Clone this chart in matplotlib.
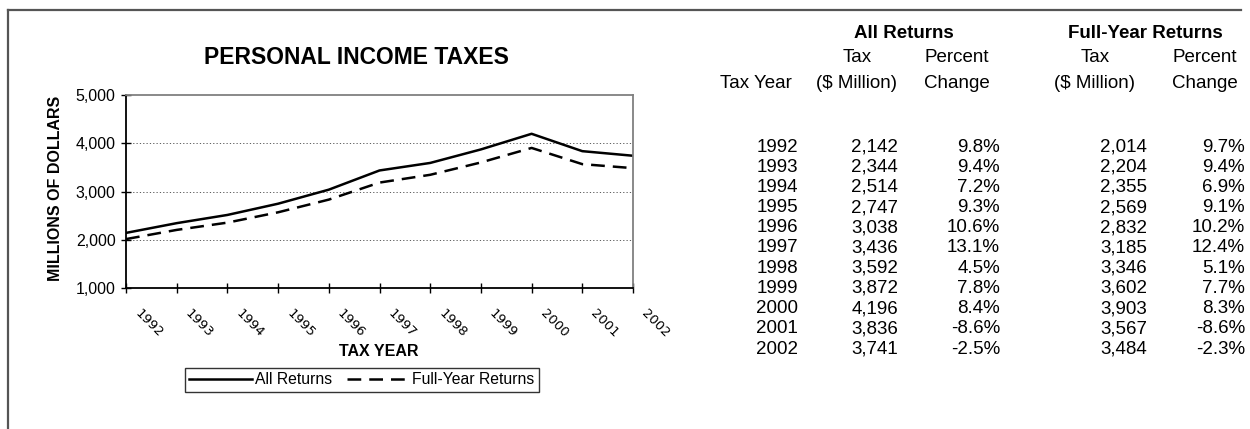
import matplotlib
matplotlib.use("Agg")
import matplotlib.pyplot as plt
from matplotlib.lines import Line2D
import matplotlib.transforms as mtransforms

plt.rcParams['font.family'] = ['Liberation Sans', 'DejaVu Sans']

# ---- data ----
years = [1992, 1993, 1994, 1995, 1996, 1997, 1998, 1999, 2000, 2001, 2002]
all_tax = [2142, 2344, 2514, 2747, 3038, 3436, 3592, 3872, 4196, 3836, 3741]
all_pct = [9.8, 9.4, 7.2, 9.3, 10.6, 13.1, 4.5, 7.8, 8.4, -8.6, -2.5]
fy_tax = [2014, 2204, 2355, 2569, 2832, 3185, 3346, 3602, 3903, 3567, 3484]
fy_pct = [9.7, 9.4, 6.9, 9.1, 10.2, 12.4, 5.1, 7.7, 8.3, -8.6, -2.3]
y_ticks = [1000, 2000, 3000, 4000, 5000]
grid_vals = [2000, 3000, 4000]

W, H = 1250, 429
fig = plt.figure(figsize=(W / 100, H / 100), dpi=100)

def fx(px):
    return px / W

def fy(py):
    return 1 - py / H

# frame lines (top and left)
fig.add_artist(Line2D([fx(8), fx(1241)], [fy(9.5), fy(9.5)], color='#555555', lw=1.6))
fig.add_artist(Line2D([fx(8), fx(8)], [fy(9.5), 0], color='#555555', lw=1.6))

# ---- chart ----
ax = fig.add_axes([fx(126), fy(288), fx(633) - fx(126), (288 - 95) / H])
l1, = ax.plot(years, all_tax, color='black', lw=1.8, label='All Returns')
l2, = ax.plot(years, fy_tax, color='black', lw=1.8, dashes=(5.5, 3.2), label='Full-Year Returns')
for g in grid_vals:
    ax.axhline(g, color='#444444', lw=0.6, dashes=(1.5, 2.5), zorder=0)
ax.set_xlim(years[0], years[-1])
ax.set_ylim(y_ticks[0], y_ticks[-1])
ax.set_yticks(y_ticks)
ax.set_yticklabels([f"{v:,}" for v in y_ticks], fontsize=11.5)
ax.set_xticks(years)
ax.set_xticklabels([str(y) for y in years], rotation=-45, ha='left', va='top',
                   rotation_mode='default', fontsize=9.5, family='DejaVu Sans')
ax.tick_params(axis='both', direction='inout', length=7, width=1, color='black')
ax.tick_params(axis='x', pad=10)
ax.tick_params(axis='y', pad=4)
offset = mtransforms.ScaledTranslation(6 / 100, 0, fig.dpi_scale_trans)
for lab in ax.get_xticklabels():
    lab.set_transform(lab.get_transform() + offset)
for s in ['left', 'bottom']:
    ax.spines[s].set_color('black')
    ax.spines[s].set_linewidth(1.3)
for s in ['top', 'right']:
    ax.spines[s].set_color('#808080')
    ax.spines[s].set_linewidth(1.3)

fig.text(fx(356), fy(58), 'PERSONAL INCOME TAXES', ha='center', va='center',
         fontsize=16.5, fontweight='bold')
fig.text(fx(56), fy(188), 'MILLIONS OF DOLLARS', ha='center', va='center',
         rotation=90, fontsize=11.5, fontweight='bold')
fig.text(fx(379), fy(351), 'TAX YEAR', ha='center', va='center',
         fontsize=11.5, fontweight='bold')

leg = fig.legend(handles=[l1, l2], loc='center', bbox_to_anchor=(fx(362), fy(380)),
                 ncol=2, fontsize=11.3, frameon=True, fancybox=False, shadow=False,
                 handlelength=4.0, handletextpad=0.2, columnspacing=0.9,
                 borderpad=0.3, borderaxespad=0)
leg.get_frame().set_edgecolor('black')
leg.get_frame().set_linewidth(1.0)

# ---- table ----
tfs = 13.5
fig.text(fx(904), fy(33), 'All Returns', ha='center', va='center', fontsize=tfs, fontweight='bold')
fig.text(fx(1145), fy(33), 'Full-Year Returns', ha='center', va='center', fontsize=tfs, fontweight='bold')
for cx, t1, t2 in [(857, 'Tax', '($ Million)'), (957, 'Percent', 'Change'),
                   (1095, 'Tax', '($ Million)'), (1205, 'Percent', 'Change')]:
    fig.text(fx(cx), fy(57), t1, ha='center', va='center', fontsize=tfs)
    fig.text(fx(cx), fy(83), t2, ha='center', va='center', fontsize=tfs)
fig.text(fx(756), fy(83), 'Tax Year', ha='center', va='center', fontsize=tfs)

row0, dy = 147, 20.2
for i, yr in enumerate(years):
    yy = fy(row0 + i * dy)
    fig.text(fx(798), yy, str(yr), ha='right', va='center', fontsize=tfs)
    fig.text(fx(898), yy, f"{all_tax[i]:,}", ha='right', va='center', fontsize=tfs)
    fig.text(fx(1000), yy, f"{all_pct[i]:.1f}%", ha='right', va='center', fontsize=tfs)
    fig.text(fx(1147), yy, f"{fy_tax[i]:,}", ha='right', va='center', fontsize=tfs)
    fig.text(fx(1245), yy, f"{fy_pct[i]:.1f}%", ha='right', va='center', fontsize=tfs)

fig.savefig('out.png', dpi=100)
